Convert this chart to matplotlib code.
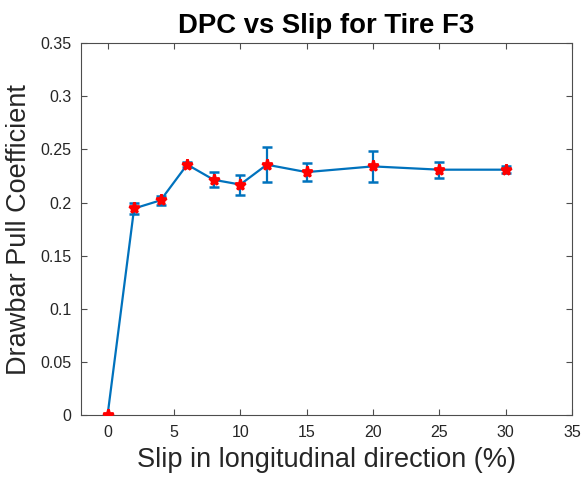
import matplotlib
matplotlib.use("Agg")
import matplotlib.pyplot as plt

# drawbar pull measurements, tire F3
slip = [0, 2, 4, 6, 8, 10, 12, 15, 20, 25, 30]
dpc = [0.0, 0.1945, 0.2022, 0.2358, 0.2215, 0.2170, 0.2357, 0.2287, 0.2341, 0.2310, 0.2310]
dpc_err = [0.0, 0.0055, 0.0042, 0.0025, 0.0072, 0.0094, 0.0167, 0.0085, 0.0146, 0.0074, 0.0030]

x_ticks = [0, 5, 10, 15, 20, 25, 30, 35]
y_ticks = [0, 0.05, 0.1, 0.15, 0.2, 0.25, 0.3, 0.35]
y_labels = ["0", "0.05", "0.1", "0.15", "0.2", "0.25", "0.3", "0.35"]

plt.rcParams['font.family'] = ['Liberation Sans', 'DejaVu Sans']
txt = '#262626'

fig = plt.figure(figsize=(5.83, 4.80), dpi=100)
ax = fig.add_axes([0.139, 0.135, 0.842, 0.775])

ax.errorbar(slip, dpc, yerr=dpc_err, color='#0072BD', linewidth=1.6,
            capsize=3.4, capthick=1.8, elinewidth=1.6, zorder=2)
ax.plot(slip, dpc, linestyle='none', marker='*', markersize=8,
        markeredgewidth=2, color='red', zorder=3)

ax.set_xlim(-2, 35)
ax.set_ylim(0, 0.35)
ax.set_xticks(x_ticks)
ax.set_yticks(y_ticks)
ax.set_yticklabels(y_labels)
ax.tick_params(direction='in', length=4, width=0.8, colors='#4d4d4d',
               labelcolor=txt, labelsize=11.5, top=True, right=True, pad=7)
for s in ax.spines.values():
    s.set_color('#4d4d4d')
    s.set_linewidth(0.8)

ax.set_title('DPC vs Slip for Tire F3', fontsize=19.8, fontweight='bold', color='black', pad=7)
ax.set_xlabel('Slip in longitudinal direction (%)', fontsize=19.5, color=txt, labelpad=5)
ax.set_ylabel('Drawbar Pull Coefficient', fontsize=19.5, color=txt, labelpad=6)

fig.savefig('out.png', dpi=100, facecolor='white')
